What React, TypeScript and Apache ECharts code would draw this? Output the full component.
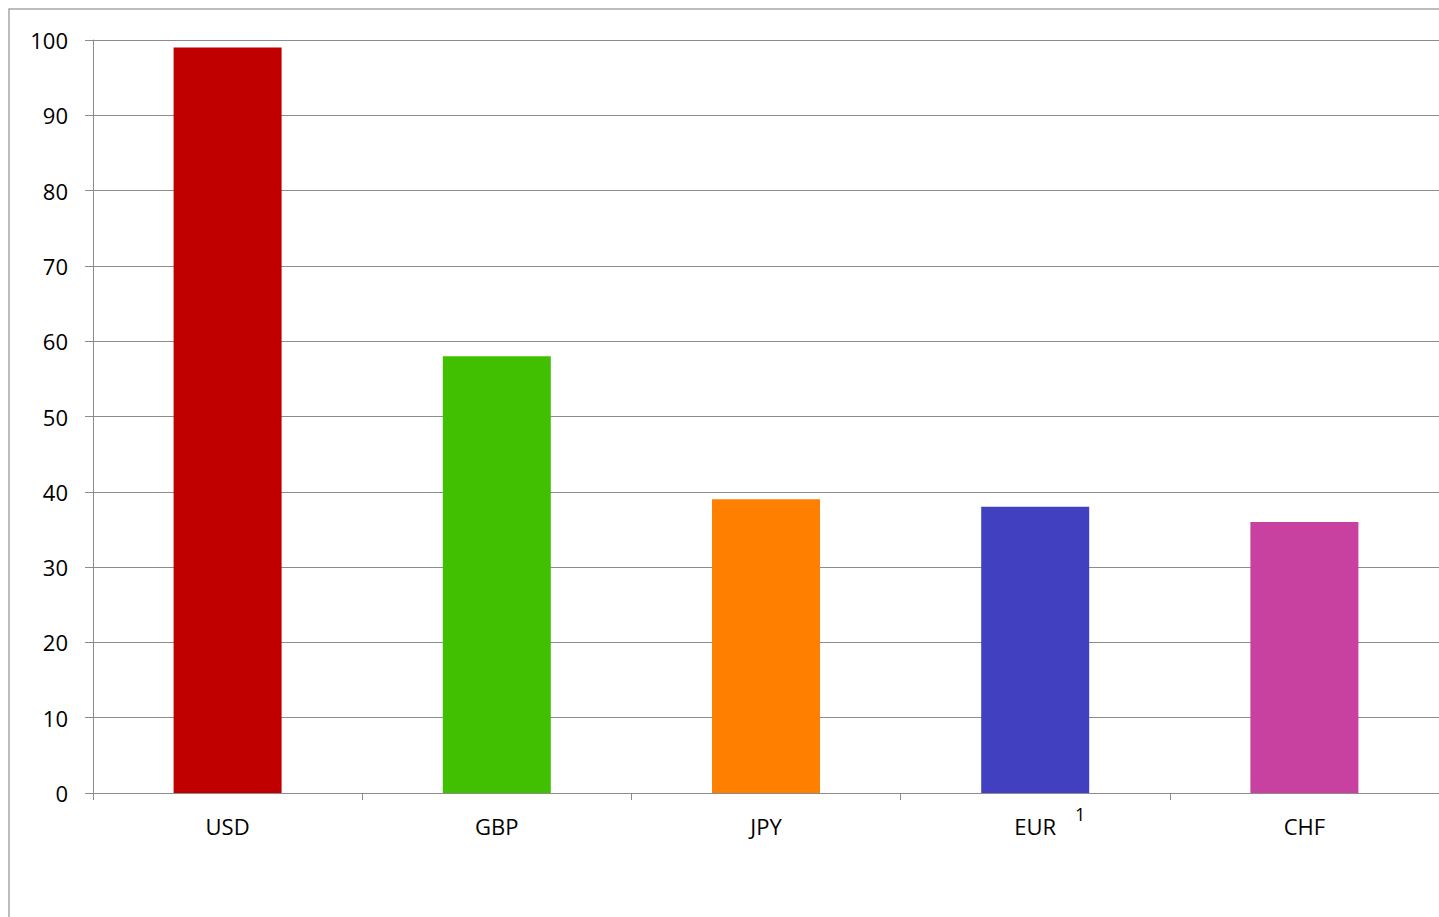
import React, { useEffect, useRef } from "react";
import * as echarts from "echarts";

const categories = ["USD", "GBP", "JPY", "EUR", "CHF"];
const values = [99, 58, 39, 38, 36];
const colors = ["#C00000", "#40C000", "#FF8000", "#4040C0", "#C840A0"];
const footnoteCategory = "EUR";
const footnoteMark = "1";

export default function App() {
  const ref = useRef<HTMLDivElement>(null);
  useEffect(() => {
    if (!ref.current) return;
    const chart = echarts.init(ref.current, undefined, { renderer: "svg" });
    const font = "'Open Sans', 'Noto Sans', sans-serif";
    chart.setOption({
      animation: false,
      backgroundColor: "#fff",
      grid: { left: 93, top: 40, right: 0, bottom: 124, containLabel: false },
      xAxis: {
        type: "category",
        data: categories,
        axisLine: { show: true, lineStyle: { color: "#8c8c8c", width: 1 } },
        axisTick: { show: true, interval: 0, length: 7, alignWithLabel: false, lineStyle: { color: "#8c8c8c" } },
        axisLabel: { interval: 0, margin: 22, fontSize: 22, color: "#000", fontFamily: font },
        splitLine: { show: false },
      },
      yAxis: {
        type: "value",
        min: 0,
        max: 100,
        interval: 10,
        axisLine: { show: true, lineStyle: { color: "#8c8c8c", width: 1 } },
        axisTick: { show: true, length: 8, lineStyle: { color: "#8c8c8c" } },
        axisLabel: { margin: 25, fontSize: 22, color: "#000", fontFamily: font },
        splitLine: { show: true, lineStyle: { color: "#8c8c8c", width: 1 } },
      },
      series: [
        {
          type: "bar",
          barWidth: 108,
          data: values.map((v, i) => ({ value: v, itemStyle: { color: colors[i] } })),
        },
      ],
    });
    const px = chart.convertToPixel({ xAxisIndex: 0 }, footnoteCategory) as number;
    const py = chart.convertToPixel({ yAxisIndex: 0 }, 0) as number;
    chart.setOption({
      graphic: [
        {
          type: "rect",
          shape: { x: 9, y: 9, width: 1500, height: 1000 },
          style: { fill: "none", stroke: "#a6a6a6", lineWidth: 1.5 },
          silent: true,
          z: -1,
        },
        {
          type: "text",
          x: px + 45,
          y: py + 21,
          style: { text: footnoteMark, font: `18px ${font}`, fill: "#000", textAlign: "center", textVerticalAlign: "middle" },
        },
      ],
    });
    return () => chart.dispose();
  }, []);
  return <div ref={ref} style={{ position: "absolute", left: 0, top: 0, width: 1439, height: 917 }} />;
}
